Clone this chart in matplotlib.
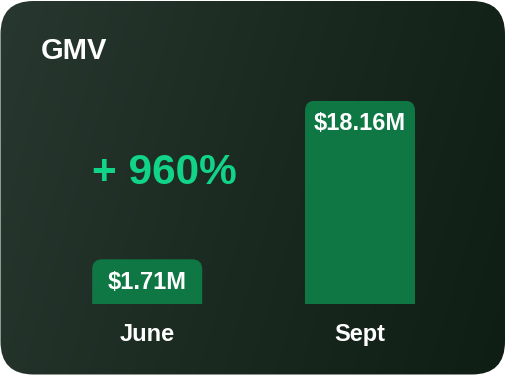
import numpy as np
import matplotlib
matplotlib.use("Agg")
import matplotlib.pyplot as plt
from matplotlib.patches import FancyBboxPatch
from matplotlib.colors import LinearSegmentedColormap

# ---- data ----
categories = ["June", "Sept"]
gmv_values = [1.71, 18.16]          # $M
value_labels = ["$1.71M", "$18.16M"]
title = "GMV"
growth_label = "+ 960%"

# ---- styles ----
W, H, DPI = 506, 375, 100
bar_color = "#0e7743"
accent = "#12d488"
font = ["Liberation Sans", "DejaVu Sans"]
base = 0.8785   # log-axis baseline

fig = plt.figure(figsize=(W / DPI, H / DPI), dpi=DPI)
fig.patch.set_facecolor("white")

# background card with gradient
bg = fig.add_axes([0, 0, 1, 1])
bg.set_xlim(0, W)
bg.set_ylim(0, H)
bg.axis("off")
xx, yy = np.meshgrid(np.linspace(0, 1, 300), np.linspace(0, 1, 220))
t = np.clip(0.82 * xx + 0.18 * (1 - yy), 0, 1)  # yy=0 at bottom
cmap = LinearSegmentedColormap.from_list("card", ["#28372f", "#1a2a21", "#0e1e15"])
im = bg.imshow(t, cmap=cmap, extent=[0, W, 0, H], origin="lower", aspect="auto",
               interpolation="bilinear", zorder=0)
card = FancyBboxPatch((0.5, 0.5), W - 1.5, H - 1.5,
                      boxstyle="round,pad=0,rounding_size=33",
                      facecolor="none", edgecolor="none", zorder=1)
bg.add_patch(card)
im.set_clip_path(card)

# ---- chart axes ----
bottom_px = 71.0            # from figure bottom
top_px = 375 - 100.7
left_px, width_px = 40.8, 425.6
ax = fig.add_axes([left_px / W, bottom_px / H, width_px / W, (top_px - bottom_px) / H])
ax.set_facecolor("none")
ax.set_yscale("log")
ax.set_xlim(-0.5, 1.5)
ax.set_ylim(base, max(gmv_values))
for s in ax.spines.values():
    s.set_visible(False)
ax.set_yticks([])
ax.yaxis.set_minor_locator(matplotlib.ticker.NullLocator())
ax.set_xticks(range(len(categories)))
ax.set_xticklabels(categories, fontsize=17, fontweight="bold", color="white", family=font)
ax.tick_params(axis="x", length=0, pad=14)

heights = np.array(gmv_values) - base
bars = ax.bar(range(len(categories)), heights, width=0.517, bottom=base,
              color=bar_color)

# replace bars with top-rounded versions (display coordinates)
r = 10
for b in bars:
    x0, y0 = ax.transData.transform((b.get_x(), b.get_y()))
    x1, y1 = ax.transData.transform((b.get_x() + b.get_width(), b.get_y() + b.get_height()))
    b.set_visible(False)
    p = FancyBboxPatch((x0, y0 - 2 * r), x1 - x0, (y1 - y0) + 2 * r,
                       boxstyle=f"round,pad=0,rounding_size={r}",
                       transform=None, facecolor=bar_color, edgecolor="none",
                       clip_on=True, zorder=2)
    ax.add_patch(p)
    p.set_clip_box(ax.bbox)

for i, (v, lab) in enumerate(zip(gmv_values, value_labels)):
    ax.annotate(lab, (i, v), xytext=(0, -23), textcoords="offset pixels",
                ha="center", va="center", fontsize=17, fontweight="bold",
                color="white", family=font, zorder=3, annotation_clip=False)

fig.text(41 / W, 1 - 51 / H, title, fontsize=21, fontweight="bold", color="white",
         family=font, ha="left", va="center")
fig.text(92 / W, 1 - 173 / H, growth_label, fontsize=30.5, fontweight="bold",
         color=accent, family=font, ha="left", va="center")

fig.savefig("out.png", dpi=DPI, facecolor="white")
